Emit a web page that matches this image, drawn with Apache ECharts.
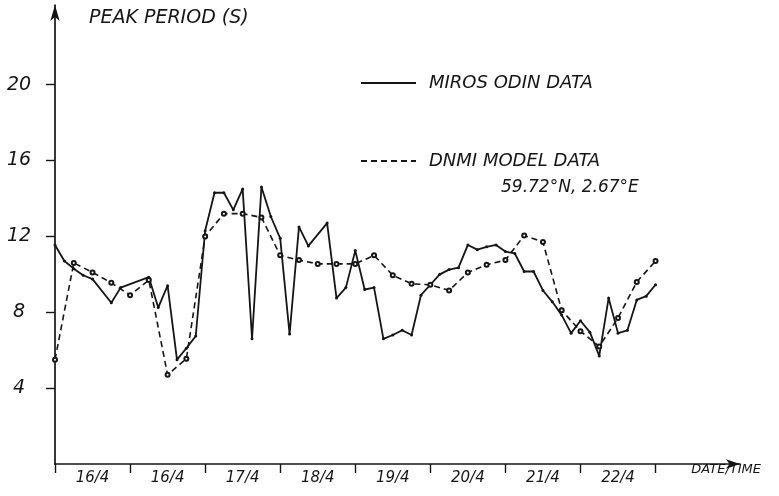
<!DOCTYPE html>
<html>
<head>
<meta charset="utf-8">
<script src="https://cdn.jsdelivr.net/npm/echarts@6/dist/echarts.min.js"></script>
<style>html,body{margin:0;padding:0;background:#fff;}#c{width:779px;height:496px;}</style>
</head>
<body>
<div id="c"></div>
<script>
// Time in hours from start of first day
const miroHours = [0,3,6,9,12,18,21,30,33,36,39,42,45,48,51,54,57,60,63,66,69,72,75,78,81,87,90,93,96,99,102,105,108,111,114,117,120,123,126,129,132,135,138,141,144,147,150,153,156,159,162,165,168,171,174,177,180,183,186,189,192];
const miroValues = [11.55,10.7,10.3,9.95,9.75,8.5,9.3,9.85,8.25,9.4,5.5,6.1,6.75,12.3,14.3,14.3,13.4,14.5,6.6,14.6,13.05,11.9,6.85,12.5,11.5,12.7,8.75,9.3,11.25,9.2,9.3,6.6,6.8,7.05,6.8,8.9,9.45,10.0,10.25,10.35,11.55,11.3,11.45,11.55,11.2,11.1,10.15,10.15,9.15,8.55,7.85,6.9,7.55,6.95,5.7,8.75,6.9,7.05,8.65,8.85,9.45];
const dnmiHours = [0,6,12,18,24,30,36,42,48,54,60,66,72,78,84,90,96,102,108,114,120,126,132,138,144,150,156,162,168,174,180,186,192];
const dnmiValues = [5.5,10.6,10.1,9.55,8.9,9.7,4.7,5.55,12.0,13.2,13.2,13.0,11.0,10.75,10.55,10.55,10.55,11.0,9.95,9.5,9.45,9.15,10.1,10.5,10.75,12.05,11.7,8.1,7.0,6.2,7.7,9.6,10.7];
const dayTicks = [0,24,48,72,96,120,144,168,192];
const dayLabelPos = [12,36,60,84,108,132,156,180];
const dayLabels = ['16/4','16/4','17/4','18/4','19/4','20/4','21/4','22/4'];
const yTicks = [4,8,12,16,20];
const seriesNames = ['MIROS ODIN DATA','DNMI MODEL DATA'];

const ink = '#151515';
const font = 'DejaVu Sans';
const chart = echarts.init(document.getElementById('c'));
chart.setOption({
  backgroundColor: '#fff',
  animation: false,
  title: [
    {text: 'PEAK PERIOD (S)', left: 84, top: 4,
     textStyle: {fontFamily: font, fontStyle: 'italic', fontWeight: 'normal', fontSize: 19, color: ink}},
    {text: '59.72°N, 2.67°E', left: 496, top: 174,
     textStyle: {fontFamily: font, fontStyle: 'italic', fontWeight: 'normal', fontSize: 17, color: ink}}
  ],
  legend: {
    orient: 'vertical', left: 355, top: 69,
    itemWidth: 55, itemHeight: 14, itemGap: 60,
    data: seriesNames,
    itemStyle: {opacity: 0},
    textStyle: {fontFamily: font, fontStyle: 'italic', fontSize: 18, color: ink, padding: [0,0,0,8]}
  },
  grid: {left: 55, right: 39, top: 5, bottom: 32, containLabel: false},
  xAxis: {
    type: 'value', min: 0, max: 219, position: 'bottom',
    axisLine: {show: true, symbol: ['none','arrow'], symbolSize: [7,14], lineStyle: {color: ink, width: 1.7}},
    axisTick: {show: true, customValues: dayTicks, length: 9, lineStyle: {color: ink, width: 1.4}},
    axisLabel: {show: true, customValues: dayLabelPos, margin: 7,
      formatter: v => dayLabels[dayLabelPos.indexOf(v)] || '',
      fontFamily: font, fontStyle: 'italic', fontSize: 15, color: ink},
    splitLine: {show: false},
    name: 'DATE/TIME', nameLocation: 'end', nameGap: 21,
    nameTextStyle: {fontFamily: font, fontStyle: 'italic', fontSize: 13, color: ink, align: 'right', verticalAlign: 'top', padding: [-1,0,0,0]}
  },
  yAxis: {
    type: 'value', min: 0, max: 24.2, position: 'left',
    axisLine: {show: true, symbol: ['none','arrow'], symbolSize: [7,16], lineStyle: {color: ink, width: 1.7}},
    axisTick: {show: true, customValues: yTicks, length: 9, lineStyle: {color: ink, width: 1.4}},
    axisLabel: {show: true, customValues: yTicks, margin: 36, align: 'center',
      fontFamily: font, fontStyle: 'italic', fontSize: 19, color: ink},
    splitLine: {show: false}
  },
  series: [
    {name: seriesNames[0], type: 'line',
     data: miroHours.map((h, i) => [h, miroValues[i]]),
     symbol: 'circle', symbolSize: 3, showSymbol: true,
     lineStyle: {color: ink, width: 1.8, type: 'solid'},
     itemStyle: {color: ink}
    },
    {name: seriesNames[1], type: 'line',
     data: dnmiHours.map((h, i) => [h, dnmiValues[i]]),
     symbol: 'emptyCircle', symbolSize: 4, showSymbol: true,
     lineStyle: {color: ink, width: 1.6, type: [6,4]},
     itemStyle: {color: ink, borderWidth: 1.2}
    }
  ]
});
</script>
</body>
</html>
